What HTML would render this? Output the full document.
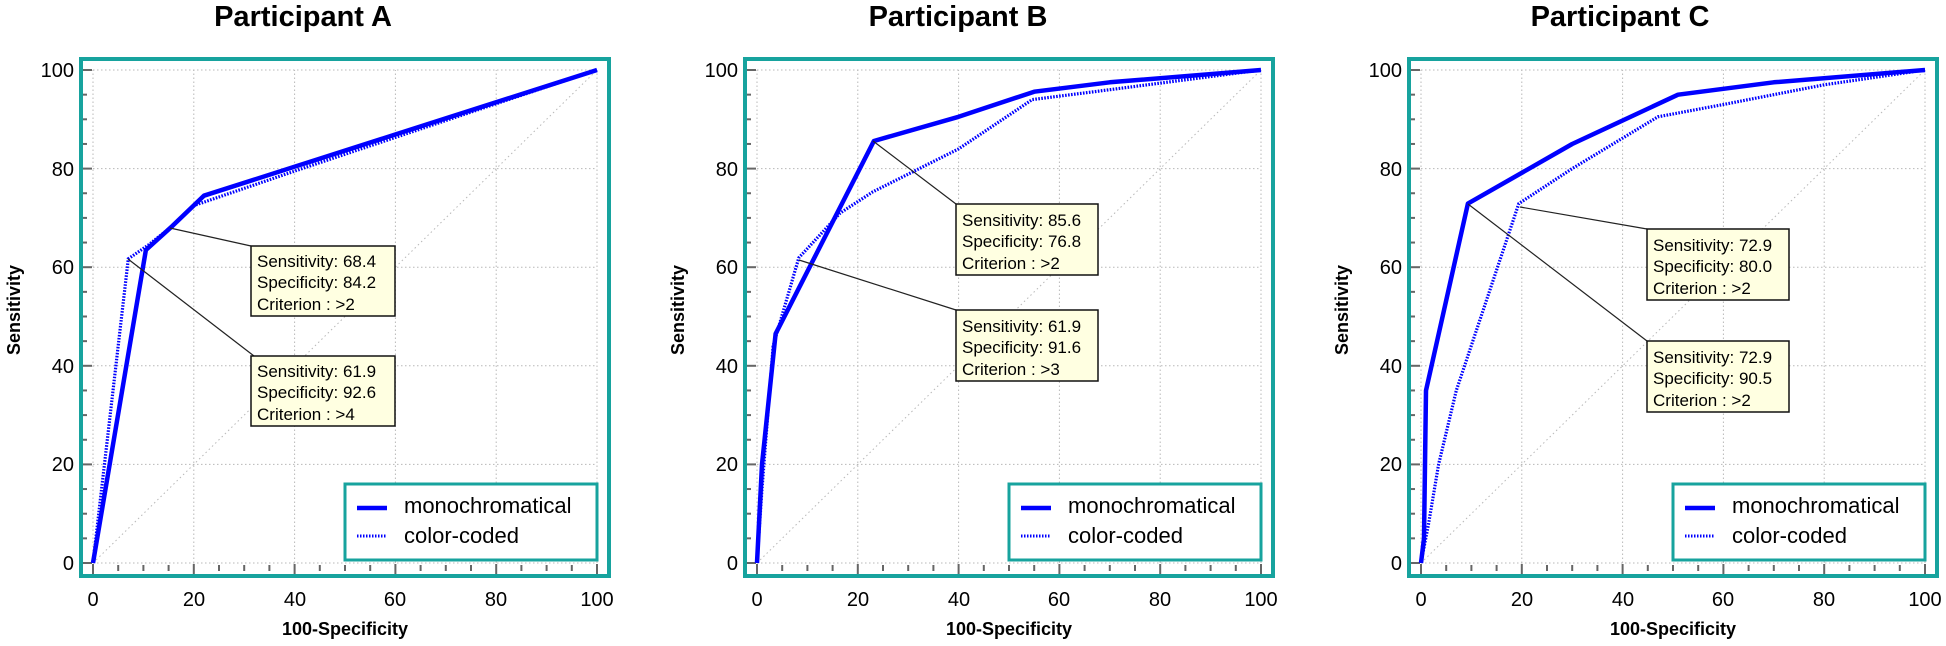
<!DOCTYPE html>
<html><head><meta charset="utf-8"><style>
html,body{margin:0;padding:0;background:#fff;}
svg{display:block;font-family:"Liberation Sans",Arial,sans-serif;}
.t{font-weight:bold;font-size:29px;text-anchor:middle;}
.yl{font-size:20px;text-anchor:end;}
.xl{font-size:20px;text-anchor:middle;}
.ax{font-weight:bold;font-size:18px;text-anchor:middle;}
.lg{font-size:22px;}
.an{font-size:17px;}
</style></head><body>
<svg id="s" width="1946" height="646" viewBox="0 0 1946 646" xmlns="http://www.w3.org/2000/svg">
<g id="shapes"></g>
<text class="t" x="303" y="26">Participant A</text>
<text class="t" x="958" y="26">Participant B</text>
<text class="t" x="1620" y="26">Participant C</text>
<text class="ax" x="345" y="635">100-Specificity</text>
<text class="ax" x="1009" y="635">100-Specificity</text>
<text class="ax" x="1673" y="635">100-Specificity</text>
<text class="ax" transform="translate(20,310) rotate(-90)">Sensitivity</text>
<text class="ax" transform="translate(684,310) rotate(-90)">Sensitivity</text>
<text class="ax" transform="translate(1348,310) rotate(-90)">Sensitivity</text>
<g class="yl">
<text x="74" y="77">100</text><text x="74" y="176">80</text><text x="74" y="274">60</text><text x="74" y="373">40</text><text x="74" y="471">20</text><text x="74" y="570">0</text>
<text x="738" y="77">100</text><text x="738" y="176">80</text><text x="738" y="274">60</text><text x="738" y="373">40</text><text x="738" y="471">20</text><text x="738" y="570">0</text>
<text x="1402" y="77">100</text><text x="1402" y="176">80</text><text x="1402" y="274">60</text><text x="1402" y="373">40</text><text x="1402" y="471">20</text><text x="1402" y="570">0</text>
</g>
<g class="xl">
<text x="93" y="606">0</text><text x="194" y="606">20</text><text x="295" y="606">40</text><text x="395" y="606">60</text><text x="496" y="606">80</text><text x="597" y="606">100</text>
<text x="757" y="606">0</text><text x="858" y="606">20</text><text x="959" y="606">40</text><text x="1059" y="606">60</text><text x="1160" y="606">80</text><text x="1261" y="606">100</text>
<text x="1421" y="606">0</text><text x="1522" y="606">20</text><text x="1623" y="606">40</text><text x="1723" y="606">60</text><text x="1824" y="606">80</text><text x="1925" y="606">100</text>
</g>
<g class="lg">
<text x="404" y="513">monochromatical</text><text x="404" y="543">color-coded</text>
<text x="1068" y="513">monochromatical</text><text x="1068" y="543">color-coded</text>
<text x="1732" y="513">monochromatical</text><text x="1732" y="543">color-coded</text>
</g>
<g id="ann"></g>
<g class="an">
<text x="257" y="267">Sensitivity: 68.4</text><text x="257" y="288">Specificity: 84.2</text><text x="257" y="310">Criterion : &gt;2</text>
<text x="257" y="377">Sensitivity: 61.9</text><text x="257" y="398">Specificity: 92.6</text><text x="257" y="420">Criterion : &gt;4</text>
<text x="962" y="226">Sensitivity: 85.6</text><text x="962" y="247">Specificity: 76.8</text><text x="962" y="269">Criterion : &gt;2</text>
<text x="962" y="332">Sensitivity: 61.9</text><text x="962" y="353">Specificity: 91.6</text><text x="962" y="375">Criterion : &gt;3</text>
<text x="1653" y="251">Sensitivity: 72.9</text><text x="1653" y="272">Specificity: 80.0</text><text x="1653" y="294">Criterion : &gt;2</text>
<text x="1653" y="363">Sensitivity: 72.9</text><text x="1653" y="384">Specificity: 90.5</text><text x="1653" y="406">Criterion : &gt;2</text>
</g>
</svg>
<script>
(function(){
var NS="http://www.w3.org/2000/svg";
var g=document.getElementById("shapes"), ga=document.getElementById("ann");
function el(p,t,a){var e=document.createElementNS(NS,t);for(var k in a)e.setAttribute(k,a[k]);p.appendChild(e);return e;}
var panels=[
 {dx:0,
  mono:[[0,0],[10.5,63.5],[15.8,68.4],[22,74.5],[100,100]],
  col:[[0,0],[7,61.7],[11,64.5],[15.8,68.4],[20,72.5],[40,79.5],[100,100]],
  boxes:[[251,246,395,316],[251,356,395,426]],
  leads:[[170,228,251,246],[128,259,254,356]]},
 {dx:664,
  mono:[[0,0],[1,20],[3.7,46.5],[23.2,85.6],[40,90.5],[55,95.6],[70,97.5],[100,100]],
  col:[[0,0],[1,15],[3.2,44],[8.3,61.9],[12,66],[16.5,71],[23,75.3],[40,84],[54.6,94],[70,96],[100,100]],
  boxes:[[956,204,1098,275],[956,310,1098,381]],
  leads:[[873,141,956,204],[799,260,956,310]]},
 {dx:1328,
  mono:[[0,0],[0.6,5],[1,35],[9.3,72.9],[30,85],[51,95],[70,97.5],[100,100]],
  col:[[0,0],[1.5,8],[3.5,20],[7,35],[19.4,72.9],[30,80],[47,90.5],[60,93],[80,97],[100,100]],
  boxes:[[1647,229,1789,300],[1647,341,1789,412]],
  leads:[[1520,207,1647,229],[1468,204,1647,341]]}
];
panels.forEach(function(P){
 var dx=P.dx;
 function px(x){return 93+dx+5.04*x;} function py(y){return 563-4.93*y;}
 for(var v=0;v<=100;v+=20){
  el(g,"line",{x1:px(v),y1:py(0),x2:px(v),y2:py(100),stroke:"#b8b8b8","stroke-width":1,"stroke-dasharray":"1.5 2.5"});
  el(g,"line",{x1:px(0),y1:py(v),x2:px(100),y2:py(v),stroke:"#b8b8b8","stroke-width":1,"stroke-dasharray":"1.5 2.5"});
 }
 el(g,"line",{x1:px(0),y1:py(0),x2:px(100),y2:py(100),stroke:"#b8b8b8","stroke-width":1,"stroke-dasharray":"1.5 3"});
 for(var v=0;v<=100;v+=5){
  var maj=v%20==0;
  el(g,"line",{x1:80+dx,y1:py(v),x2:maj?92+dx:87+dx,y2:py(v),stroke:"#666","stroke-width":2});
  el(g,"line",{x1:px(v),y1:maj?564:565,x2:px(v),y2:maj?575:571,stroke:"#666","stroke-width":2});
 }
 el(g,"rect",{x:81+dx,y:59,width:528,height:517,fill:"none",stroke:"#17a39e","stroke-width":4});
 function pts(a){return a.map(function(p){return px(p[0]).toFixed(1)+","+py(p[1]).toFixed(1);}).join(" ");}
 el(g,"polyline",{points:pts(P.col),fill:"none",stroke:"#0000ff","stroke-width":3.2,"stroke-dasharray":"1.6 1.4"});
 el(g,"polyline",{points:pts(P.mono),fill:"none",stroke:"#0000ff","stroke-width":4.5,"stroke-linejoin":"round"});
 el(g,"rect",{x:345+dx,y:484,width:252,height:76,fill:"#fff",stroke:"#17a39e","stroke-width":3});
 el(g,"line",{x1:357+dx,y1:508,x2:387+dx,y2:508,stroke:"#0000ff","stroke-width":4.5});
 el(g,"line",{x1:357+dx,y1:536,x2:387+dx,y2:536,stroke:"#0000ff","stroke-width":3,"stroke-dasharray":"1.5 1.5"});
 P.leads.forEach(function(l){el(ga,"line",{x1:l[0],y1:l[1],x2:l[2],y2:l[3],stroke:"#222","stroke-width":1.2});});
 P.boxes.forEach(function(b){el(ga,"rect",{x:b[0],y:b[1],width:b[2]-b[0],height:b[3]-b[1],fill:"#ffffe1",stroke:"#111","stroke-width":1.5});});
});
})();
</script>
</body></html>
